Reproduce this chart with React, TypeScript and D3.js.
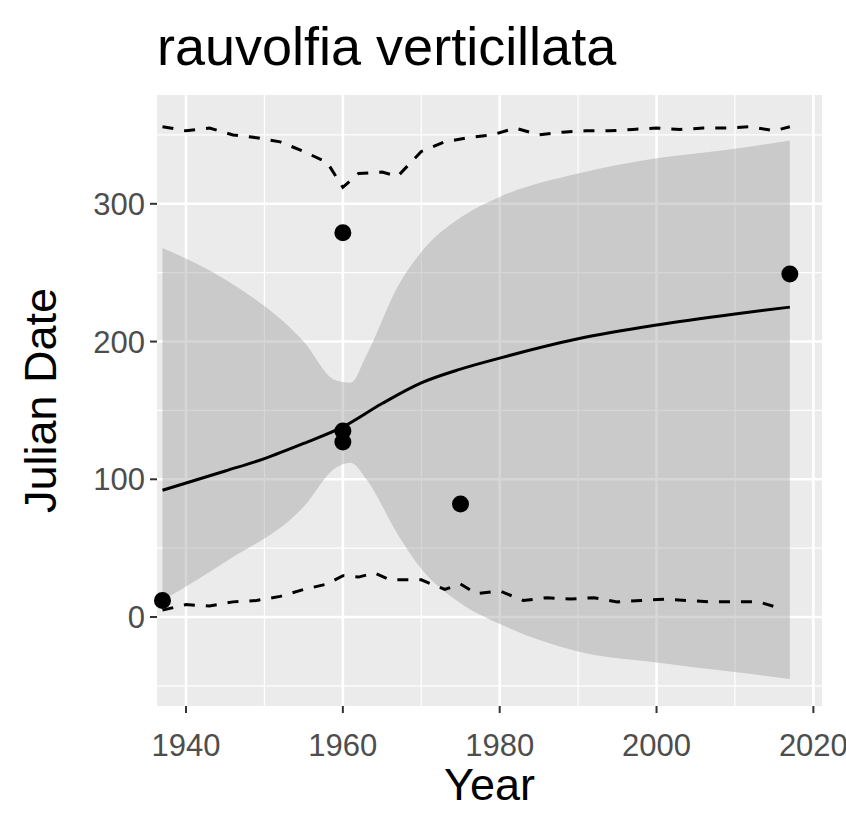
import React from "react";
import * as d3 from "d3";

const points: [number, number][] = [[1937, 12], [1960, 279], [1960, 135], [1960, 127], [1975, 82], [2017, 249]];
const fitYears = [1937, 1945, 1950, 1955, 1960, 1965, 1970, 1975, 1980, 1990, 2000, 2010, 2017];
const fitMid = [92, 106, 115, 126, 138, 155, 170, 180, 188, 202, 212, 220, 225];
const ribbonYears = [1937, 1945, 1955, 1959, 1961, 1963, 1967, 1970, 1975, 1980, 1990, 2000, 2010, 2017];
const ribbonHi = [268, 245, 200, 172, 170, 190, 240, 265, 290, 305, 322, 333, 340, 346];
const ribbonLo = [12, 40, 80, 108, 112, 100, 60, 35, 10, -5, -25, -33, -40, -45];
const upperYears = [1937, 1940, 1943, 1946, 1949, 1952, 1955, 1958, 1960, 1962, 1965, 1967, 1970, 1973, 1976, 1979, 1982, 1985, 1988, 1991, 1994, 1997, 2000, 2003, 2006, 2009, 2012, 2015, 2017];
const upperVals = [356, 353, 355, 350, 348, 345, 338, 330, 312, 322, 323, 320, 338, 345, 348, 350, 355, 350, 352, 353, 353, 354, 355, 354, 355, 355, 356, 353, 356];
const lowerYears = [1937, 1940, 1943, 1946, 1949, 1952, 1955, 1958, 1960, 1962, 1964, 1966, 1970, 1973, 1975, 1977, 1980, 1983, 1986, 1989, 1992, 1995, 1998, 2001, 2004, 2007, 2010, 2013, 2016];
const lowerVals = [5, 9, 8, 11, 12, 15, 20, 24, 30, 29, 32, 27, 27, 20, 24, 17, 19, 12, 14, 13, 14, 11, 12, 13, 12, 11, 11, 11, 6];
const xTicks = [1940, 1960, 1980, 2000, 2020];
const xMinor = [1950, 1970, 1990, 2010];
const yTicks = [0, 100, 200, 300];
const yMinor = [-50, 50, 150, 250, 350];

export default function App() {
  const L = 157, R = 822, T = 95, B = 706;
  const x = d3.scaleLinear().domain([1936.3, 2021.1]).range([L, R]);
  const y = d3.scaleLinear().domain([-64.6, 379]).range([B, T]);
  const line = d3.line<[number, number]>().x(d => x(d[0])).y(d => y(d[1]));
  const smooth = d3.line<[number, number]>().x(d => x(d[0])).y(d => y(d[1])).curve(d3.curveMonotoneX);
  const area = d3.area<number>()
    .x((_, i) => x(ribbonYears[i])).y0((_, i) => y(ribbonLo[i])).y1(d => y(d))
    .curve(d3.curveMonotoneX);
  const font = "Liberation Sans, Arial, sans-serif";
  return (
    <svg width={846} height={835} style={{ position: "absolute", left: 0, top: 0, fontFamily: font }}>
      <rect width={846} height={835} fill="#fff" />
      <text x={157} y={65} fontSize={54}>rauvolfia verticillata</text>
      <rect x={L} y={T} width={R - L} height={B - T} fill="#ebebeb" />
      {xMinor.map(v => <line key={"xm" + v} x1={x(v)} x2={x(v)} y1={T} y2={B} stroke="#fff" strokeWidth={1.2} />)}
      {yMinor.map(v => <line key={"ym" + v} y1={y(v)} y2={y(v)} x1={L} x2={R} stroke="#fff" strokeWidth={1.2} />)}
      {xTicks.map(v => <line key={"x" + v} x1={x(v)} x2={x(v)} y1={T} y2={B} stroke="#fff" strokeWidth={2.6} />)}
      {yTicks.map(v => <line key={"y" + v} y1={y(v)} y2={y(v)} x1={L} x2={R} stroke="#fff" strokeWidth={2.6} />)}
      <path d={area(ribbonHi) ?? ""} fill="#999" fillOpacity={0.4} />
      <path d={smooth(fitYears.map((v, i) => [v, fitMid[i]] as [number, number])) ?? ""} fill="none" stroke="#000" strokeWidth={3} />
      <path d={line(upperYears.map((v, i) => [v, upperVals[i]] as [number, number])) ?? ""} fill="none" stroke="#000" strokeWidth={3} strokeDasharray="11 11" />
      <path d={line(lowerYears.map((v, i) => [v, lowerVals[i]] as [number, number])) ?? ""} fill="none" stroke="#000" strokeWidth={3} strokeDasharray="11 11" />
      {points.map((p, i) => <circle key={i} cx={x(p[0])} cy={y(p[1])} r={8.5} fill="#000" />)}
      {xTicks.map(v => (
        <g key={"xt" + v}>
          <line x1={x(v)} x2={x(v)} y1={B} y2={B + 7} stroke="#333" strokeWidth={2} />
          <text x={x(v)} y={B + 50} fontSize={31} fill="#4d4d4d" textAnchor="middle">{v}</text>
        </g>
      ))}
      {yTicks.map(v => (
        <g key={"yt" + v}>
          <line x1={L - 7} x2={L} y1={y(v)} y2={y(v)} stroke="#333" strokeWidth={2} />
          <text x={L - 12} y={y(v) + 11} fontSize={31} fill="#4d4d4d" textAnchor="end">{v}</text>
        </g>
      ))}
      <text x={(L + R) / 2} y={800} fontSize={45} textAnchor="middle">Year</text>
      <text transform={`translate(56,${(T + B) / 2}) rotate(-90)`} fontSize={45} textAnchor="middle">Julian Date</text>
    </svg>
  );
}
